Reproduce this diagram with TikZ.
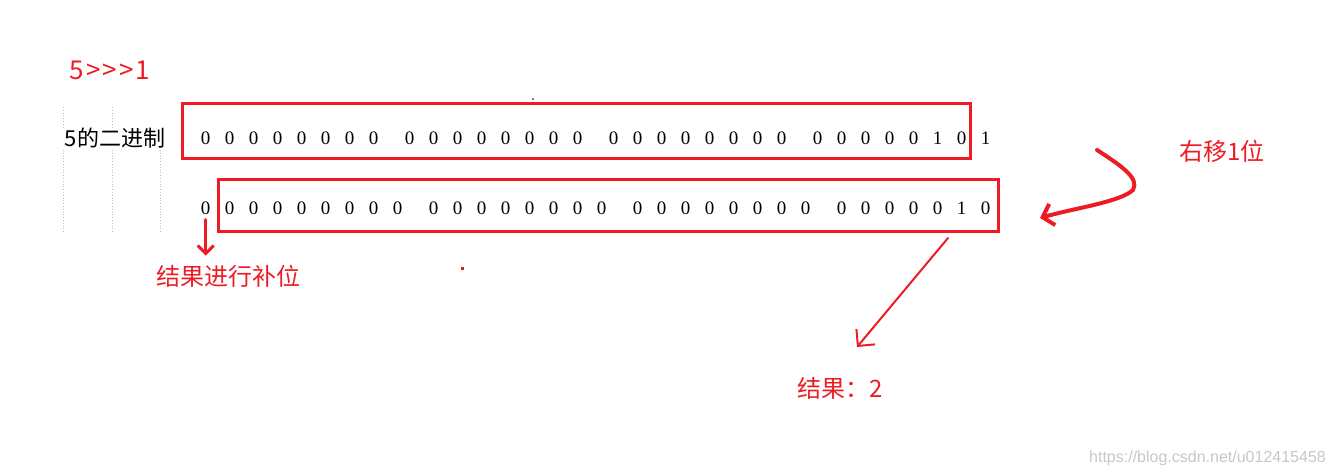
\documentclass[tikz,border=0pt]{standalone}
\usepackage{fontspec}
\setmainfont{Liberation Serif}
\newfontfamily\cjk{Noto Sans CJK SC}
\newfontfamily\wmfont{Liberation Sans}
\usetikzlibrary{arrows.meta,positioning}
\definecolor{markred}{RGB}{237,28,36}

\begin{document}
\begin{tikzpicture}[x=1pt,y=-1pt,
  bit/.style={inner sep=0pt,font=\fontsize{19}{19}\selectfont},
  note/.style={text=markred,inner sep=0pt,font=\cjk\fontsize{24}{24}\selectfont},
  redbox/.style={draw=markred,line width=3pt,inner sep=0pt},
  hand/.style={draw=markred,line width=2pt,line cap=round,-{Straight Barb[length=10pt,width=20pt]}},
  guide/.style={draw=black!25,dotted,line width=0.8pt}]

  \useasboundingbox (0,0) rectangle (1332,476);

  \node[note,font=\cjk\fontsize{26}{26}\selectfont\addfontfeature{LetterSpace=8}] (title) at (110,70) {5>>>1};
  \node[inner sep=0pt,font=\cjk\fontsize{22}{22}\selectfont] (bin) at (115,138) {5的二进制};

  \draw[guide] (63,107) -- (63,127) (63,150) -- (63,232);
  \draw[guide] (112,107) -- (112,127) (112,150) -- (112,232);
  \draw[guide] (160,150) -- (160,232);

  \foreach \b [count=\i from 0] in {0,0,0,0,0,0,0,0,0,0,0,0,0,0,0,0,0,0,0,0,0,0,0,0,0,0,0,0,0,1,0,1} {
    \pgfmathsetmacro\px{205.7+24*\i+12*int(\i/8)}
    \node[bit] (t\i) at (\px,138) {\b};
  }
  \foreach \b [count=\j from 0] in {0,0,0,0,0,0,0,0,0,0,0,0,0,0,0,0,0,0,0,0,0,0,0,0,0,0,0,0,0,0,1,0} {
    \pgfmathsetmacro\px{205.7+24*\j+12*int(max(\j-1,0)/8)}
    \node[bit] (s\j) at (\px,208) {\b};
  }

  \node[redbox,minimum width=788,minimum height=54] (box1) at (576,131) {};
  \node[redbox,minimum width=780,minimum height=52] (box2) at (608,205) {};

  \node[note] (fill) at (228,276) {结果进行补位};
  \node[note] (shift) at (1222,151) {右移1位};
  \node[note] (res) at (840,388) {结果：2};

  \coordinate (c0) at (1097,150);
  \coordinate (c1) at (1040,218);
  \coordinate (d0) at (948,238);
  \coordinate (d1) at (857,347);

  \draw[hand,line width=3pt,shorten <=5pt,shorten >=9pt,-{Straight Barb[length=8pt,width=16pt]}] (s0.south) -- (s0.south |- fill.north);
  \draw[hand,-{Straight Barb[length=12pt,width=24pt]}] (d0) -- (d1);
  \draw[hand,line width=4pt,-{Straight Barb[length=10pt,width=22pt]}] (c0) .. controls (1120,165) and (1140,178) .. (1133,190) .. controls (1120,202) and (1075,208) .. (c1);

  \fill (533,99) circle (0.8);
  \fill[markred] (461,267) rectangle (464,270);

  \node[text=black!22,font=\wmfont\fontsize{16}{16}\selectfont,anchor=east,inner sep=0pt] (wm) at (1326,458) {https://blog.csdn.net/u012415458};
\end{tikzpicture}
\end{document}
